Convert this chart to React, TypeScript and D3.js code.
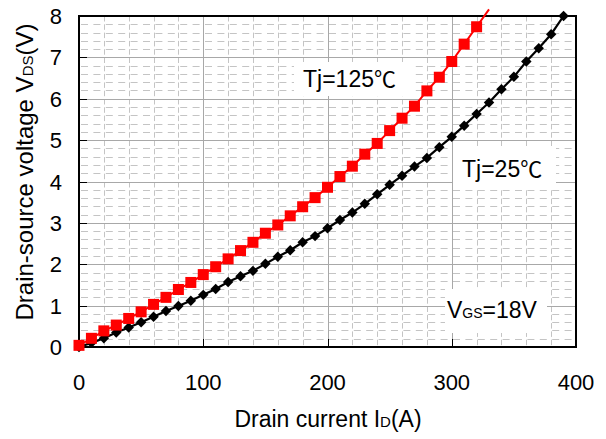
import React from 'react';
import * as d3 from 'd3';

// Drain current (A) and drain-source voltage (V), Tj = 125 °C
const current125 = [0, 10, 20, 30, 40, 50, 60, 70, 80, 90, 100, 110, 120, 130, 140, 150, 160, 170, 180, 190, 200, 210, 220, 230, 240, 250, 260, 270, 280, 290, 300, 310, 320, 330];
const vds125 = [0.04, 0.21, 0.39, 0.53, 0.69, 0.85, 1.03, 1.2, 1.39, 1.56, 1.75, 1.94, 2.13, 2.33, 2.53, 2.75, 2.95, 3.17, 3.39, 3.61, 3.86, 4.12, 4.37, 4.66, 4.92, 5.23, 5.53, 5.82, 6.19, 6.52, 6.9, 7.32, 7.74, 8.16];

// Drain current (A) and drain-source voltage (V), Tj = 25 °C
const current25 = [0, 10, 20, 30, 40, 50, 60, 70, 80, 90, 100, 110, 120, 130, 140, 150, 160, 170, 180, 190, 200, 210, 220, 230, 240, 250, 260, 270, 280, 290, 300, 310, 320, 330, 340, 350, 360, 370, 380, 390];
const vds25 = [0.0, 0.1, 0.21, 0.35, 0.47, 0.6, 0.73, 0.87, 0.99, 1.12, 1.26, 1.4, 1.57, 1.71, 1.84, 2.01, 2.18, 2.34, 2.53, 2.68, 2.87, 3.07, 3.25, 3.46, 3.69, 3.92, 4.14, 4.36, 4.57, 4.83, 5.08, 5.35, 5.63, 5.91, 6.23, 6.53, 6.9, 7.22, 7.56, 8.0];

const xTickValues = [0, 100, 200, 300, 400];
const yTickValues = [0, 1, 2, 3, 4, 5, 6, 7, 8];
const xMinorStep = 20;
const yMinorDivisions = 5;

const FONT = "'Liberation Sans', Arial, 'Noto Sans CJK JP', sans-serif";
const CJK = "'Noto Sans CJK JP', 'Noto Sans CJK SC', sans-serif";

export default function App() {
  const W = 606;
  const H = 439;
  const x = d3.scaleLinear().domain([0, 400]).range([79, 576]);
  const y = d3.scaleLinear().domain([0, 8]).range([347, 16]);
  const [x0, x1] = x.range();
  const [y0, y1] = y.range();

  const minorX = d3.range(x.domain()[0], x.domain()[1] + 1, xMinorStep).filter((v) => v % 100 !== 0);
  const minorY = d3
    .range(0, 8 * yMinorDivisions + 1)
    .filter((i) => i % yMinorDivisions !== 0)
    .map((i) => i / yMinorDivisions);

  const line = d3
    .line<[number, number]>()
    .x((d) => x(d[0]))
    .y((d) => y(d[1]));

  const pts125: [number, number][] = current125.map((c, i) => [c, vds125[i]]);
  const pts25: [number, number][] = current25.map((c, i) => [c, vds25[i]]);
  const inPlot = (d: [number, number]) => d[1] <= y.domain()[1] + 1e-9;

  const sq = 11;
  const dia = 7.4;

  return (
    <svg
      width={W}
      height={H}
      style={{ position: 'absolute', left: 0, top: 0, background: '#fff' }}
      fontFamily={FONT}
    >
      <rect x={0} y={0} width={W} height={H} fill="#fff" />

      {/* minor grid */}
      <g stroke="#c4c4c4" strokeWidth={1}>
        {minorY.map((v) => (
          <line key={'my' + v} x1={x0} x2={x1} y1={Math.round(y(v)) + 0.5} y2={Math.round(y(v)) + 0.5} strokeDasharray="7,5.4" strokeDashoffset={-2} />
        ))}
        {minorX.map((v) => (
          <line key={'mx' + v} x1={Math.round(x(v)) + 0.5} x2={Math.round(x(v)) + 0.5} y1={y1} y2={y0} strokeDasharray="5.5,2.8" />
        ))}
      </g>

      {/* major grid */}
      <g stroke="#a8a8a8" strokeWidth={1}>
        {xTickValues.slice(1, -1).map((v) => (
          <line key={'gx' + v} x1={Math.round(x(v)) + 0.5} x2={Math.round(x(v)) + 0.5} y1={y1} y2={y0} />
        ))}
        {yTickValues.slice(1, -1).map((v) => (
          <line key={'gy' + v} x1={x0} x2={x1} y1={Math.round(y(v)) + 0.5} y2={Math.round(y(v)) + 0.5} />
        ))}
      </g>

      {/* inward tick marks */}
      <g stroke="#000" strokeWidth={1}>
        {xTickValues.map((v) => (
          <line key={'tx' + v} x1={Math.round(x(v)) + 0.5} x2={Math.round(x(v)) + 0.5} y1={y0} y2={y0 - 8} />
        ))}
        {yTickValues.map((v) => (
          <line key={'ty' + v} x1={x0} x2={x0 + 8} y1={Math.round(y(v)) + 0.5} y2={Math.round(y(v)) + 0.5} />
        ))}
      </g>

      {/* annotation backgrounds */}
      <g fill="#fff">
        <rect x={294} y={62} width={118} height={34} />
        <rect x={453} y={148} width={103} height={40} />
        <rect x={445} y={289} width={102} height={44} />
      </g>

      {/* plot frame */}
      <rect x={x0} y={y1} width={x1 - x0} height={y0 - y1} fill="none" stroke="#000" strokeWidth={2} />

      {/* Tj = 25 °C */}
      <path d={line(pts25) || ''} fill="none" stroke="#000" strokeWidth={2.2} />
      {pts25.filter(inPlot).map((d) => (
        <rect
          key={'b' + d[0]}
          x={-dia / 2}
          y={-dia / 2}
          width={dia}
          height={dia}
          fill="#000"
          transform={`translate(${x(d[0])},${y(d[1])}) rotate(45)`}
        />
      ))}

      {/* Tj = 125 °C */}
      <path d={line(pts125) || ''} fill="none" stroke="#ff0000" strokeWidth={2} />
      {pts125.filter(inPlot).map((d) => (
        <rect key={'r' + d[0]} x={x(d[0]) - sq / 2} y={y(d[1]) - sq / 2} width={sq} height={sq} fill="#ff0000" />
      ))}

      {/* tick labels */}
      <g fontSize={22} fill="#000">
        {xTickValues.map((v) => (
          <text key={'lx' + v} x={x(v)} y={390} textAnchor="middle">
            {v}
          </text>
        ))}
        {yTickValues.map((v) => (
          <text key={'ly' + v} x={62} y={y(v) + 8} textAnchor="end">
            {v}
          </text>
        ))}
      </g>

      {/* annotations */}
      <g fill="#000" fontSize={23}>
        <text x={303} y={87}>
          Tj=125<tspan fontFamily={CJK} fontSize={22}>℃</tspan>
        </text>
        <text x={462} y={177}>
          Tj=25<tspan fontFamily={CJK} fontSize={22}>℃</tspan>
        </text>
        <text x={447} y={318}>
          V<tspan fontSize={14}>GS</tspan>=18V
        </text>
      </g>

      {/* axis titles */}
      <text x={328} y={427} textAnchor="middle" fontSize={23} fill="#000">
        Drain current I<tspan fontSize={15}>D</tspan>(A)
      </text>
      <text transform="translate(33,172) rotate(-90)" textAnchor="middle" fontSize={24} fill="#000">
        Drain-source voltage V<tspan fontSize={15}>DS</tspan>(V)
      </text>
    </svg>
  );
}
